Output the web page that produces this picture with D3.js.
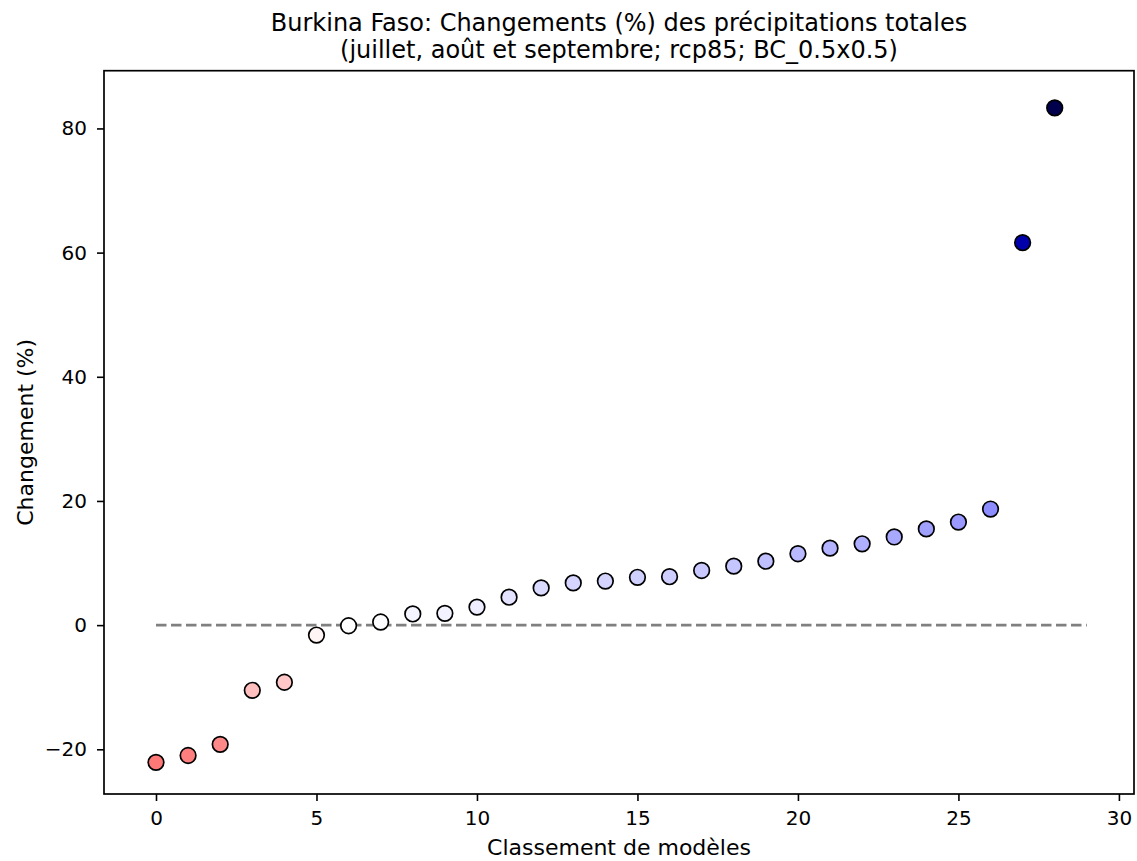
<!DOCTYPE html>
<html>
<head>
<meta charset="utf-8">
<script src="https://cdn.jsdelivr.net/npm/d3@7"></script>
<style>
body { margin: 0; background: #fff; }
svg { font-family: "DejaVu Sans", sans-serif; }
</style>
</head>
<body>
<svg id="chart" width="1137" height="861"></svg>
<script>
const titleLines = ["Burkina Faso: Changements (%) des précipitations totales",
                    "(juillet, août et septembre; rcp85; BC_0.5x0.5)"];
const xLabel = "Classement de modèles";
const yLabel = "Changement (%)";
const ranks = d3.range(29);
const changes = [-22.1, -21.0, -19.2, -10.5, -9.2, -1.6, -0.1, 0.5, 1.8, 1.9,
                 2.9, 4.5, 6.0, 6.8, 7.1, 7.7, 7.8, 8.8, 9.5, 10.3,
                 11.5, 12.4, 13.1, 14.2, 15.5, 16.6, 18.7, 61.6, 83.3];
const xTicks = [0, 5, 10, 15, 20, 25, 30];
const yTicks = [-20, 0, 20, 40, 60, 80];
const refLine = [0, 29];

const svg = d3.select("#chart");
const mLeft = 104, mRight = 1134, mTop = 70.7, mBottom = 794;

const x = d3.scaleLinear().domain([-1.62, 30.47]).range([mLeft, mRight]);
const y = d3.scaleLinear().domain([-27.2, 89.3]).range([mBottom, mTop]);

const vmax = d3.max(changes, d => Math.abs(d));
const color = d3.scaleLinear()
  .domain([-vmax, -vmax / 2, 0, vmax / 2, vmax])
  .range(["#800000", "#ff0000", "#ffffff", "#0000ff", "#00004d"]);

// reference line
svg.append("line")
  .attr("x1", x(refLine[0])).attr("x2", x(refLine[1]))
  .attr("y1", y(0)).attr("y2", y(0))
  .attr("stroke", "#808080").attr("stroke-width", 2.8)
  .attr("stroke-dasharray", "10.5,4.5");

// points
svg.append("g").selectAll("circle")
  .data(ranks)
  .join("circle")
  .attr("cx", i => x(i))
  .attr("cy", i => y(changes[i]))
  .attr("r", 7.8)
  .attr("fill", i => color(changes[i]))
  .attr("stroke", "#000")
  .attr("stroke-width", 1.7);

// axes
const xAxis = svg.append("g").attr("transform", `translate(0,${mBottom})`)
  .call(d3.axisBottom(x).tickValues(xTicks).tickSize(7).tickPadding(10).tickFormat(d3.format("d")));
const yAxis = svg.append("g").attr("transform", `translate(${mLeft},0)`)
  .call(d3.axisLeft(y).tickValues(yTicks).tickSize(7).tickPadding(10)
    .tickFormat(d => d < 0 ? "\u2212" + Math.abs(d) : d));
[xAxis, yAxis].forEach(a => {
  a.select(".domain").remove();
  a.selectAll("text").attr("font-size", 20).attr("fill", "#000")
   .attr("font-family", "DejaVu Sans, sans-serif");
  a.selectAll("line").attr("stroke", "#000").attr("stroke-width", 1.6);
});

// frame
svg.append("rect")
  .attr("x", mLeft).attr("y", mTop)
  .attr("width", mRight - mLeft).attr("height", mBottom - mTop)
  .attr("fill", "none").attr("stroke", "#000").attr("stroke-width", 1.7);

// titles
svg.append("text").attr("x", (mLeft + mRight) / 2).attr("y", 31)
  .attr("text-anchor", "middle").attr("font-size", 24).text(titleLines[0]);
svg.append("text").attr("x", (mLeft + mRight) / 2).attr("y", 58)
  .attr("text-anchor", "middle").attr("font-size", 24).text(titleLines[1]);

svg.append("text").attr("x", (mLeft + mRight) / 2).attr("y", 855)
  .attr("text-anchor", "middle").attr("font-size", 22).text(xLabel);
svg.append("text")
  .attr("transform", `translate(33,${(mTop + mBottom) / 2}) rotate(-90)`)
  .attr("text-anchor", "middle").attr("font-size", 22).text(yLabel);
</script>
</body>
</html>
